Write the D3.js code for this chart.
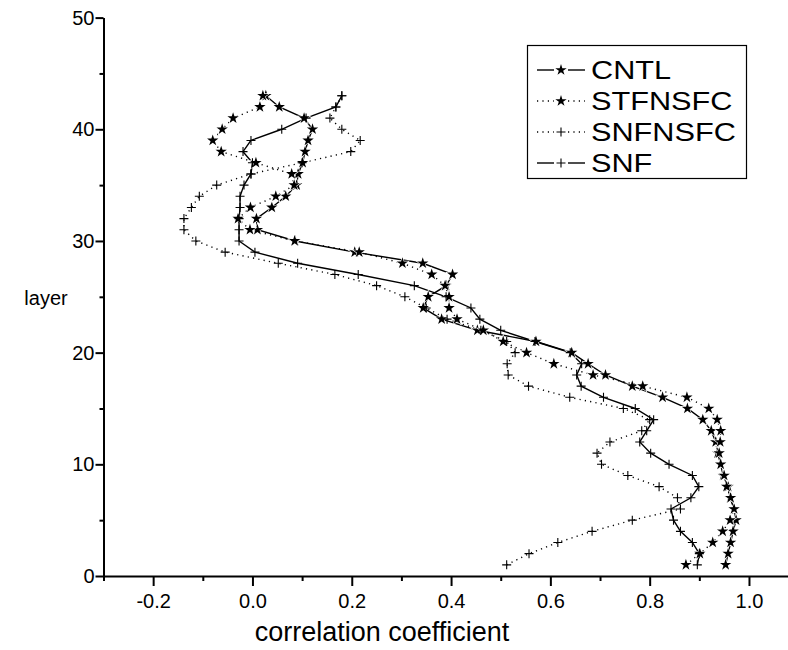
<!DOCTYPE html>
<html>
<head>
<meta charset="utf-8">
<script src="https://cdn.jsdelivr.net/npm/d3@7"></script>
<style>
  body { margin: 0; background: #fff; }
  svg { display: block; }
  text { font-family: "Liberation Sans", Arial, sans-serif; fill: #000; }
</style>
</head>
<body>
<script>
// layers 1..43, correlation coefficient per layer
var layers = d3.range(1, 44);
var cntl = [0.953, 0.958, 0.963, 0.968, 0.974, 0.970, 0.962, 0.958, 0.948, 0.943,
            0.937, 0.933, 0.924, 0.907, 0.876, 0.826, 0.765, 0.711, 0.676, 0.643,
            0.571, 0.453, 0.381, 0.344, 0.354, 0.390, 0.403, 0.343, 0.206, 0.086,
            0.010, 0.008, 0.039, 0.067, 0.089, 0.092, 0.101, 0.106, 0.112, 0.121,
            0.104, 0.054, 0.027];
var stfnsfc = [0.873, 0.901, 0.927, 0.947, 0.962, 0.970, 0.963, 0.955, 0.950, 0.943,
               0.940, 0.942, 0.943, 0.936, 0.919, 0.875, 0.786, 0.686, 0.607, 0.552,
               0.505, 0.465, 0.412, 0.396, 0.396, 0.388, 0.361, 0.302, 0.215, 0.085,
               -0.005, -0.029, -0.004, 0.047, 0.084, 0.079, 0.007, -0.063, -0.080, -0.061,
               -0.039, 0.015, 0.021];
var snfnsfc = [0.512, 0.557, 0.615, 0.684, 0.765, 0.862, 0.856, 0.819, 0.756, 0.703,
               0.694, 0.720, 0.784, 0.800, 0.747, 0.639, 0.556, 0.515, 0.513, 0.529,
               0.512, 0.460, 0.392, 0.350, 0.307, 0.250, 0.166, 0.052, -0.055, -0.114,
               -0.138, -0.138, -0.123, -0.107, -0.072, -0.003, 0.100, 0.198, 0.217, 0.180,
               0.156, 0.168, 0.180];
var snf = [0.896, 0.900, 0.886, 0.862, 0.848, 0.843, 0.883, 0.899, 0.886, 0.839,
           0.802, 0.780, 0.794, 0.808, 0.771, 0.707, 0.662, 0.653, 0.663, 0.640,
           0.569, 0.500, 0.458, 0.440, 0.390, 0.326, 0.213, 0.091, 0.005, -0.027,
           -0.027, -0.027, -0.025, -0.025, -0.017, -0.003, 0.000, -0.019, -0.003, 0.059,
           0.108, 0.168, 0.180];
var seriesNames = ['CNTL', 'STFNSFC', 'SNFNSFC', 'SNF'];
var xMajorTicks = [-0.2, 0.0, 0.2, 0.4, 0.6, 0.8, 1.0];
var xMinorTicks = [-0.3, -0.1, 0.1, 0.3, 0.5, 0.7, 0.9];
var yMajorTicks = [0, 10, 20, 30, 40, 50];
var yMinorTicks = [5, 15, 25, 35, 45];

var width  = 788;
var height = 650;

var x = d3.scaleLinear().domain([-0.3, 1.08]).range([103.5, 788.7]);
var y = d3.scaleLinear().domain([0, 50]).range([576, 17.6]);

var series = [
  { name: seriesNames[0], values: cntl,    marker: 'star', dotted: false },
  { name: seriesNames[1], values: stfnsfc, marker: 'star', dotted: true },
  { name: seriesNames[2], values: snfnsfc, marker: 'plus', dotted: true },
  { name: seriesNames[3], values: snf,     marker: 'plus', dotted: false }
];

var svg = d3.select('body')
  .append('svg')
  .attr('width', width)
  .attr('height', height)
  .attr('viewBox', [0, 0, width, height].join(' '));

var star = d3.symbol().type(d3.symbolStar).size(40);
var plus = 'M-4.5,0H4.5M0,-4.5V4.5';

var line = d3.line()
  .x(function (d) { return x(d.v); })
  .y(function (d) { return y(d.layer); });

function points(s) {
  return layers.map(function (l, i) { return { layer: l, v: s.values[i] }; });
}

function styleLine(sel, s) {
  sel.attr('fill', 'none')
    .attr('stroke', '#000')
    .attr('stroke-width', 1.4)
    .attr('stroke-dasharray', s.dotted ? '1.2,4.2' : null);
}

function drawMarker(g, s, cx, cy) {
  if (s.marker === 'star') {
    g.append('path')
      .attr('d', star())
      .attr('transform', 'translate(' + cx + ',' + cy + ')')
      .attr('fill', '#000')
      .attr('stroke', '#fff')
      .attr('stroke-width', 1.2)
      .style('paint-order', 'stroke');
  } else {
    g.append('path')
      .attr('d', plus)
      .attr('transform', 'translate(' + cx + ',' + cy + ')')
      .attr('fill', 'none')
      .attr('stroke', '#000')
      .attr('stroke-width', 1.1);
  }
}

// lines
series.forEach(function (s) {
  svg.append('path')
    .datum(points(s))
    .attr('d', line)
    .call(styleLine, s);
});

// markers
series.forEach(function (s) {
  var g = svg.append('g');
  points(s).forEach(function (d) {
    drawMarker(g, s, x(d.v), y(d.layer));
  });
});

// axes
function fmt(v) { return v.toFixed(1); }

var xAxis = svg.append('g')
  .attr('transform', 'translate(0,' + y(0) + ')')
  .call(d3.axisBottom(x).tickValues(xMajorTicks).tickFormat(fmt)
    .tickSize(10).tickSizeOuter(0).tickPadding(8));
svg.append('g')
  .attr('transform', 'translate(0,' + y(0) + ')')
  .call(d3.axisBottom(x).tickValues(xMinorTicks).tickFormat('')
    .tickSize(5).tickSizeOuter(0))
  .select('.domain').remove();

var yAxis = svg.append('g')
  .attr('transform', 'translate(' + x(-0.3) + ',0)')
  .call(d3.axisLeft(y).tickValues(yMajorTicks).tickFormat(d3.format('d'))
    .tickSize(8).tickSizeOuter(0).tickPadding(1));
svg.append('g')
  .attr('transform', 'translate(' + x(-0.3) + ',0)')
  .call(d3.axisLeft(y).tickValues(yMinorTicks).tickFormat('')
    .tickSize(4).tickSizeOuter(0))
  .select('.domain').remove();

svg.selectAll('.domain, .tick line')
  .attr('stroke', '#000')
  .attr('stroke-width', 2);

xAxis.selectAll('text').attr('font-size', 20).style('font-family', '"Liberation Sans", Arial, sans-serif');
yAxis.selectAll('text').attr('font-size', 20).style('font-family', '"Liberation Sans", Arial, sans-serif');

// axis titles
svg.append('text')
  .attr('x', 382)
  .attr('y', 641)
  .attr('text-anchor', 'middle')
  .attr('font-size', 27)
  .text('correlation coefficient');

svg.append('text')
  .attr('x', 46)
  .attr('y', 305)
  .attr('text-anchor', 'middle')
  .attr('font-size', 20)
  .text('layer');

// legend
var legend = svg.append('g');
legend.append('rect')
  .attr('x', 527.5)
  .attr('y', 45.5)
  .attr('width', 219)
  .attr('height', 133)
  .attr('fill', '#fff')
  .attr('stroke', '#000')
  .attr('stroke-width', 1.2);

series.forEach(function (s, i) {
  var cy = 70 + i * 31;
  var row = legend.append('g');
  row.append('line')
    .attr('x1', 537).attr('x2', 554).attr('y1', cy).attr('y2', cy)
    .call(styleLine, s);
  row.append('line')
    .attr('x1', 568).attr('x2', 585).attr('y1', cy).attr('y2', cy)
    .call(styleLine, s);
  drawMarker(row, s, 561, cy);
  row.append('text')
    .attr('transform', 'translate(591,' + (cy + 9) + ') scale(1.18,1)')
    .attr('font-size', 26)
    .text(s.name);
});
</script>
</body>
</html>
